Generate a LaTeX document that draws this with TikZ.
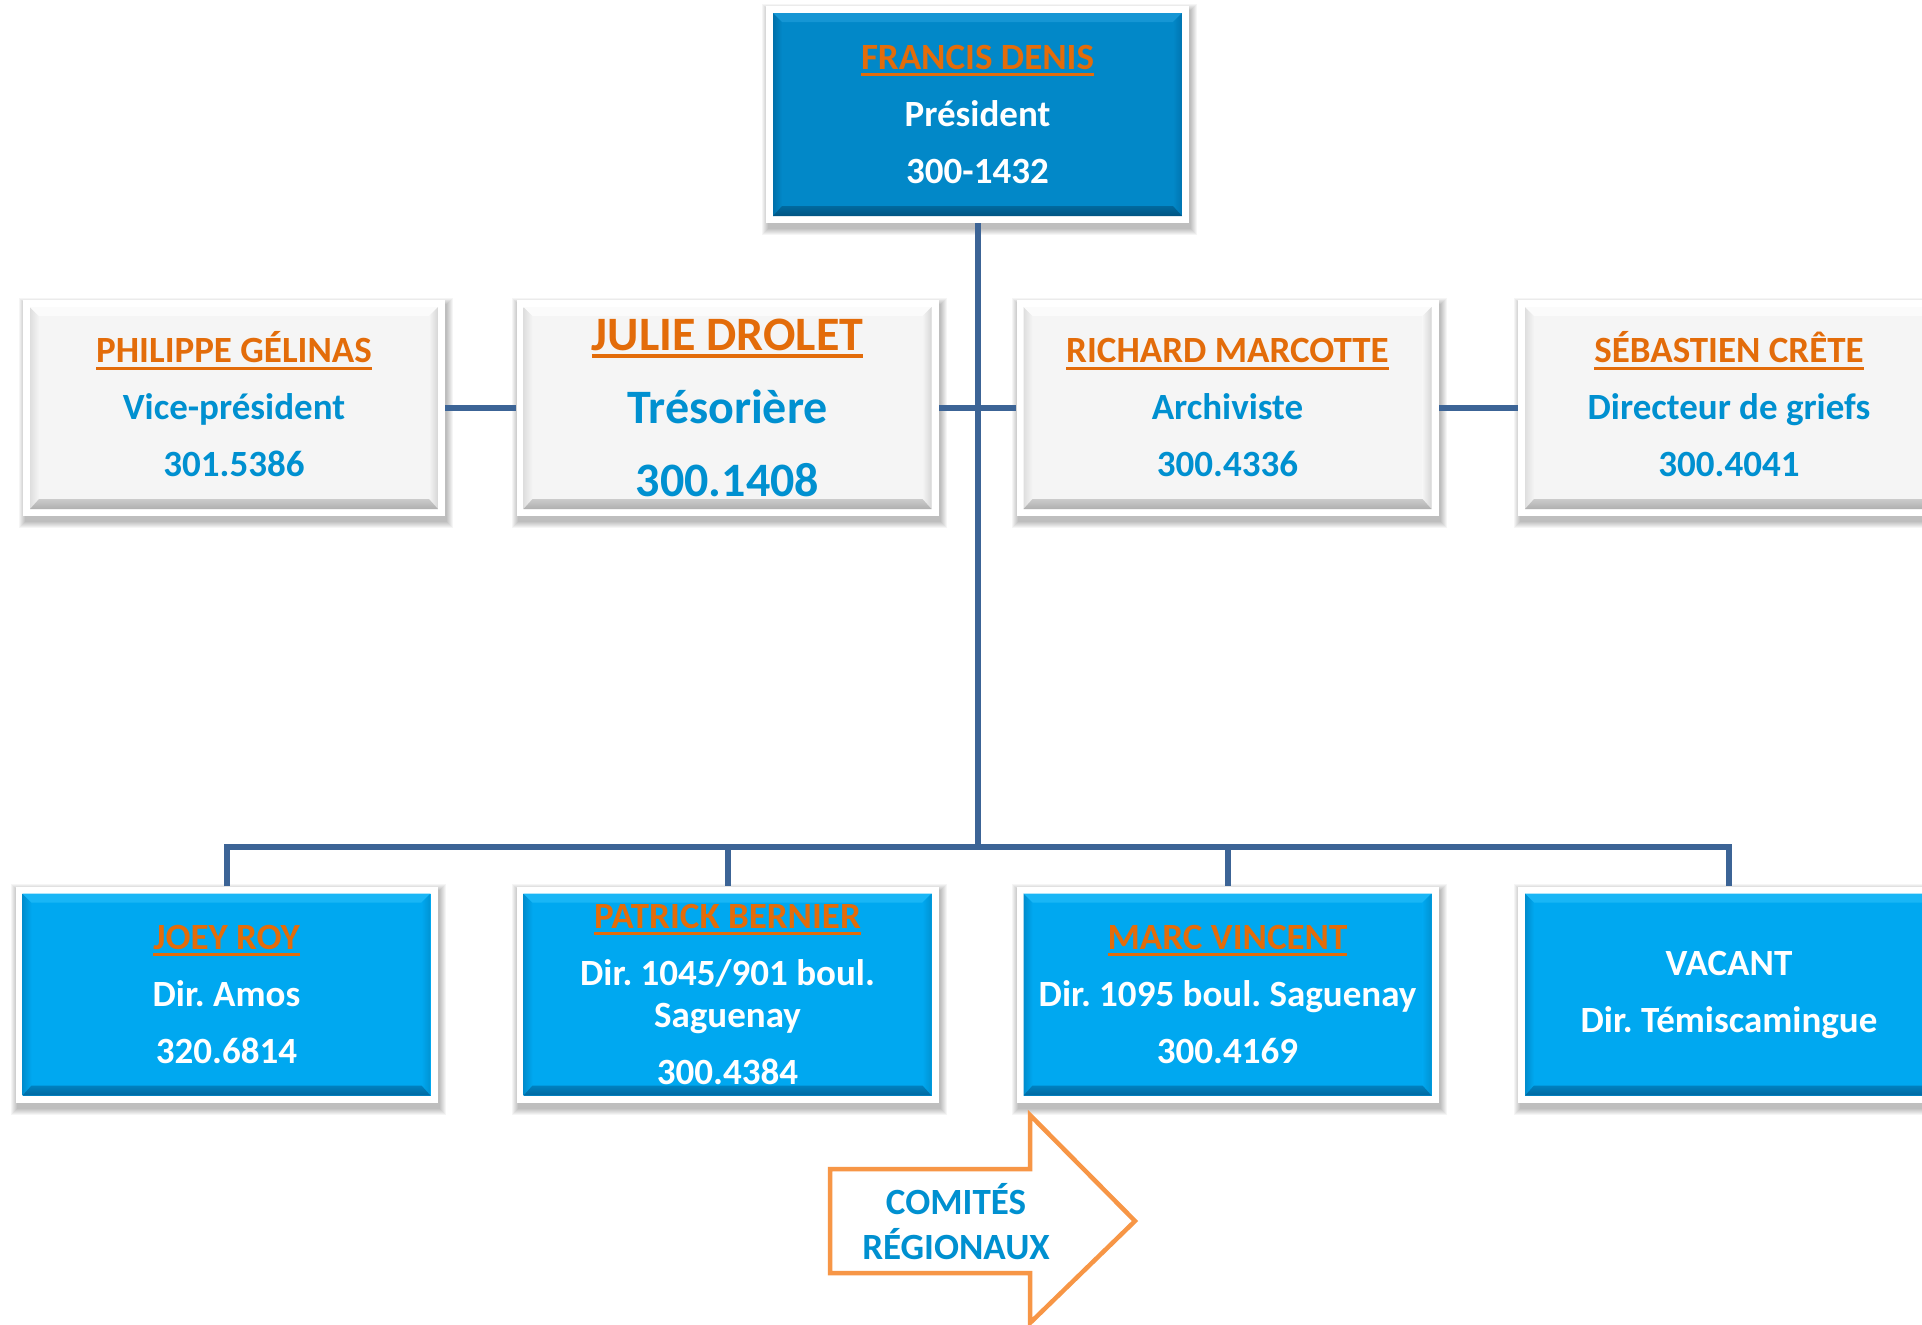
\documentclass[tikz,border=0pt]{standalone}
\usepackage{fontspec}
\setmainfont{Carlito}
\frenchspacing
\definecolor{topfill}{RGB}{2,136,200}
\definecolor{topL}{RGB}{0,112,170}
\definecolor{topT}{RGB}{22,150,212}
\definecolor{topR}{RGB}{0,116,176}
\definecolor{topB}{RGB}{0,84,130}
\definecolor{cyfill}{RGB}{0,168,240}
\definecolor{cyL}{RGB}{0,140,205}
\definecolor{cyT}{RGB}{25,182,246}
\definecolor{cyR}{RGB}{0,146,210}
\definecolor{cyB}{RGB}{0,104,160}
\definecolor{gyfill}{RGB}{245,245,245}
\definecolor{gyL}{RGB}{222,222,222}
\definecolor{gyT}{RGB}{251,251,251}
\definecolor{gyR}{RGB}{214,214,214}
\definecolor{gyB}{RGB}{175,175,175}
\definecolor{nameor}{RGB}{227,108,10}
\definecolor{blutext}{RGB}{0,144,208}
\definecolor{connc}{RGB}{60,100,150}
\definecolor{arrowor}{RGB}{247,150,70}
\pgfdeclarelayer{bg}
\pgfdeclarelayer{lines}
\pgfsetlayers{bg,lines,main}
\newcommand\ulname[3]{{\color{nameor}\setbox0\hbox{#1}\ht0=\fontcharht\font`A\rlap{\rule[-#2]{\wd0}{#3}}\box0}}
\newcommand\nm[1]{\ulname{#1}{7pt}{3pt}}
\newcommand\bevel[5]{%
  \path (path picture bounding box.north west) ++(7pt,-7pt) coordinate (P1);
  \path (path picture bounding box.south east) ++(-7pt,7pt) coordinate (P3);
  \coordinate (P2) at (P3 |- P1);
  \coordinate (P4) at (P1 |- P3);
  \path (P1) ++(9pt,-9pt) coordinate (Q1);
  \path (P3) ++(-9pt,10pt) coordinate (Q3);
  \coordinate (Q2) at (Q3 |- Q1);
  \coordinate (Q4) at (Q1 |- Q3);
  \fill[#1] (P1) rectangle (P3);
  \shade[left color=#2, right color=#1] (P1) -- (P4) -- (Q4) -- (Q1) -- cycle;
  \fill[#3] (P1) -- (P2) -- (Q2) -- (Q1) -- cycle;
  \shade[left color=#1, right color=#4] (P2) -- (P3) -- (Q3) -- (Q2) -- cycle;
  \shade[top color=#1!40!#5, bottom color=#5] (P4) -- (P3) -- (Q3) -- (Q4) -- cycle;
}
\newcommand\softshadow[1]{%
  \foreach \k in {0,...,6} {
    \fill[black, opacity=0.04] ([shift={(2pt-\k pt,-4pt+\k pt)}]#1.north west)
      rectangle ([shift={(2pt+\k pt,-6pt-\k pt)}]#1.south east);
  }}
\tikzset{
  boxbase/.style={minimum width=422pt, minimum height=216pt, fill=white, inner sep=0pt,
    align=center, font=\fontsize{37}{57}\selectfont\bfseries},
  greybox/.style={boxbase, text=blutext, path picture={\bevel{gyfill}{gyL}{gyT}{gyR}{gyB}}},
  topbox/.style={boxbase, text=white, path picture={\bevel{topfill}{topL}{topT}{topR}{topB}}},
  cybox/.style={boxbase, text=white, path picture={\bevel{cyfill}{cyL}{cyT}{cyR}{cyB}}},
  conn/.style={draw=connc, line width=6pt},
}
\begin{document}
\begin{tikzpicture}[x=1pt,y=-1pt]
\begin{pgfonlayer}{bg}
\fill[white] (0,0) rectangle (1922,1325);
\end{pgfonlayer}
\useasboundingbox (0,0) rectangle (1922,1325);
\clip (0,0) rectangle (1922,1325);

\node[topbox, minimum width=423pt, minimum height=217pt] (pres) at (977.5,114.5)
  {\nm{FRANCIS DENIS}\\Président\\300-1432};

\node[greybox] (vp) at (234,408) {\nm{PHILIPPE GÉLINAS}\\Vice-président\\301.5386};
\node[greybox, font=\fontsize{48}{73}\selectfont\bfseries] (tres) at (727.5,408)
  {\ulname{JULIE DROLET}{8pt}{4pt}\\Trésorière\\300.1408};
\node[greybox] (arch) at (1227.5,408) {\nm{RICHARD MARCOTTE}\\Archiviste\\300.4336};
\node[greybox] (grief) at (1729,408) {\nm{SÉBASTIEN CRÊTE}\\Directeur de griefs\\300.4041};

\node[cybox] (joey) at (226.5,994.5) {\nm{JOEY ROY}\\Dir. Amos\\320.6814};
\node[cybox] (patrick) at (727.5,994.5) {\nm{PATRICK BERNIER}\\Dir. 1045/901 boul.\\[-15pt]Saguenay\\300.4384};
\node[cybox] (marc) at (1227.5,994.5) {\nm{MARC VINCENT}\\Dir. 1095 boul. Saguenay\\300.4169};
\node[cybox] (vacant) at (1729,994.5) {VACANT\\Dir. Témiscamingue};

\begin{pgfonlayer}{bg}
\foreach \n in {pres,vp,tres,arch,grief,joey,patrick,marc,vacant} {\softshadow{\n}}
\end{pgfonlayer}

\coordinate (busy) at (0,847);
\begin{pgfonlayer}{lines}
\draw[conn] (pres.south) -- (pres.south |- busy);
\draw[conn] (joey.north) -- (joey.north |- busy) -- (vacant.north |- busy) -- (vacant.north);
\draw[conn] (patrick.north |- busy) -- (patrick.north);
\draw[conn] (marc.north |- busy) -- (marc.north);
\draw[conn] (vp.east) -- (tres.west);
\draw[conn] (tres.east) -- (arch.west);
\draw[conn] (arch.east) -- (grief.west);
\end{pgfonlayer}

\draw[draw=arrowor, line width=4.5pt, fill=white, line join=miter]
  (830,1169) -- (1030,1169) -- (1030,1115) -- (1135,1221) -- (1030,1323)
  -- (1030,1273) -- (830,1273) -- cycle;
\node[align=center, text=blutext, font=\fontsize{37}{45}\selectfont\bfseries] (comites) at (956,1222)
  {COMITÉS\\RÉGIONAUX};
\end{tikzpicture}
\end{document}
